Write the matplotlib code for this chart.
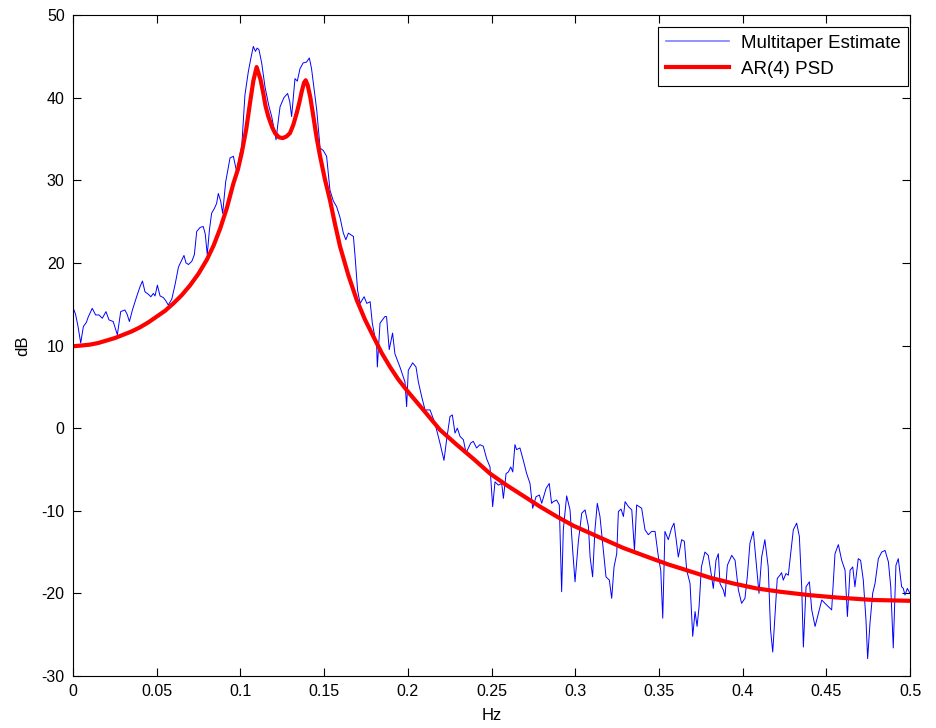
import matplotlib
matplotlib.use("Agg")
import matplotlib.pyplot as plt

# AR(4) PSD (Hz, dB)
ar_freq = [0.000, 0.005, 0.010, 0.015, 0.020, 0.025, 0.030, 0.035, 0.040, 0.045,
           0.050, 0.055, 0.060, 0.065, 0.070, 0.075, 0.080, 0.084, 0.088, 0.092,
           0.0958, 0.0985, 0.1008, 0.1035, 0.1057, 0.1077, 0.1097, 0.112, 0.1137, 0.115,
           0.1167, 0.119, 0.1207, 0.123, 0.1253, 0.1275, 0.1296, 0.1316, 0.1336, 0.1352,
           0.1366, 0.138, 0.139, 0.1402, 0.1418, 0.1436, 0.1455, 0.1476, 0.1505, 0.1535,
           0.1565, 0.1595, 0.1645, 0.1695, 0.1745, 0.1794, 0.1844, 0.1894, 0.1943, 0.1993,
           0.2093, 0.2192, 0.2292, 0.2391, 0.2491, 0.259, 0.269, 0.279, 0.289, 0.2988,
           0.3088, 0.3187, 0.3287, 0.3367, 0.3447, 0.3556, 0.3666, 0.3805, 0.3944, 0.4083,
           0.4223, 0.4392, 0.4562, 0.478, 0.500]
ar_db = [9.9, 10.0, 10.1, 10.3, 10.6, 10.9, 11.3, 11.7, 12.2, 12.8,
         13.5, 14.2, 15.1, 16.1, 17.3, 18.7, 20.4, 22.1, 24.2, 26.7,
         29.6, 31.3, 33.3, 36.2, 39.3, 42.0, 43.7, 42.2, 40.5, 39.0,
         37.7, 36.4, 35.7, 35.2, 35.1, 35.3, 35.7, 36.7, 38.1, 39.4,
         40.7, 41.8, 42.1, 41.5, 40.0, 37.7, 35.2, 32.9, 30.1, 27.6,
         24.7, 22.0, 18.5, 15.5, 13.1, 11.1, 9.1, 7.4, 5.9, 4.6,
         2.2, -0.2, -2.0, -3.7, -5.5, -6.9, -8.2, -9.5, -10.7, -11.8,
         -12.7, -13.6, -14.5, -15.1, -15.7, -16.5, -17.2, -18.1, -18.8, -19.4,
         -19.8, -20.2, -20.5, -20.8, -20.9]

# multitaper estimate (Hz, dB)
mt_freq = [0.0000, 0.0015, 0.0030, 0.0046, 0.0062, 0.0080, 0.0090, 0.0115, 0.0135, 0.0155,
           0.0175, 0.0197, 0.0215, 0.0240, 0.0265, 0.0285, 0.0310, 0.0323, 0.0337, 0.0355,
           0.0380, 0.0400, 0.0415, 0.0430, 0.0450, 0.0465, 0.0480, 0.0490, 0.0504, 0.0520,
           0.0540, 0.0555, 0.0569, 0.0590, 0.0610, 0.0630, 0.0663, 0.0675, 0.0690, 0.0710,
           0.0725, 0.0739, 0.0760, 0.0778, 0.0790, 0.0802, 0.0815, 0.0828, 0.0845, 0.0858,
           0.0868, 0.0882, 0.0894, 0.0912, 0.0938, 0.0958, 0.0978, 0.0995, 0.1008, 0.1027,
           0.1047, 0.1060, 0.1077, 0.1090, 0.1100, 0.1111, 0.1127, 0.1147, 0.1170, 0.1187,
           0.1213, 0.1225, 0.1237, 0.1260, 0.1282, 0.1295, 0.1306, 0.1326, 0.1340, 0.1356,
           0.1375, 0.1395, 0.1412, 0.1425, 0.1436, 0.1456, 0.1476, 0.1495, 0.1515, 0.1535,
           0.1555, 0.1575, 0.1595, 0.1615, 0.1630, 0.1645, 0.1660, 0.1675, 0.1685, 0.1700,
           0.1715, 0.1739, 0.1755, 0.1775, 0.1788, 0.1814, 0.1818, 0.1834, 0.1863, 0.1873,
           0.1889, 0.1909, 0.1923, 0.1953, 0.1983, 0.1993, 0.2003, 0.2029, 0.2049, 0.2063,
           0.2083, 0.2103, 0.2133, 0.2162, 0.2192, 0.2216, 0.2232, 0.2252, 0.2266, 0.2282,
           0.2296, 0.2312, 0.2332, 0.2348, 0.2376, 0.2391, 0.2411, 0.2431, 0.2451, 0.2471,
           0.2491, 0.2507, 0.2521, 0.2541, 0.2561, 0.2571, 0.2587, 0.2601, 0.2615, 0.2627,
           0.2640, 0.2650, 0.2670, 0.2690, 0.2710, 0.2730, 0.2746, 0.2766, 0.2786, 0.2800,
           0.2826, 0.2845, 0.2859, 0.2869, 0.2889, 0.2905, 0.2919, 0.2929, 0.2949, 0.2969,
           0.2985, 0.2999, 0.3019, 0.3039, 0.3059, 0.3079, 0.3089, 0.3104, 0.3118, 0.3132,
           0.3148, 0.3168, 0.3184, 0.3204, 0.3218, 0.3232, 0.3248, 0.3258, 0.3274, 0.3288,
           0.3298, 0.3318, 0.3338, 0.3354, 0.3367, 0.3397, 0.3417, 0.3437, 0.3457, 0.3477,
           0.3497, 0.3511, 0.3523, 0.3536, 0.3556, 0.3576, 0.3590, 0.3602, 0.3616, 0.3636,
           0.3652, 0.3666, 0.3686, 0.3702, 0.3716, 0.3728, 0.3740, 0.3754, 0.3775, 0.3795,
           0.3809, 0.3825, 0.3841, 0.3855, 0.3865, 0.3885, 0.3895, 0.3909, 0.3935, 0.3955,
           0.3975, 0.3994, 0.4014, 0.4028, 0.4044, 0.4064, 0.4080, 0.4098, 0.4114, 0.4133,
           0.4153, 0.4167, 0.4180, 0.4194, 0.4207, 0.4223, 0.4233, 0.4243, 0.4259, 0.4273,
           0.4287, 0.4303, 0.4323, 0.4339, 0.4353, 0.4363, 0.4379, 0.4399, 0.4413, 0.4433,
           0.4453, 0.4473, 0.4492, 0.4512, 0.4532, 0.4552, 0.4572, 0.4592, 0.4612, 0.4626,
           0.4642, 0.4658, 0.4671, 0.4691, 0.4705, 0.4721, 0.4737, 0.4747, 0.4761, 0.4777,
           0.4791, 0.4811, 0.4831, 0.4851, 0.4871, 0.4885, 0.4900, 0.4916, 0.4930, 0.4950,
           0.4960, 0.4970, 0.4984, 0.5000]
mt_db = [14.6, 13.8, 12.3, 10.3, 12.3, 12.8, 13.4, 14.5, 13.7, 13.7,
         13.3, 14.1, 13.1, 12.9, 11.3, 14.1, 14.3, 13.8, 12.9, 14.3,
         15.9, 17.1, 17.8, 16.5, 16.2, 15.9, 16.3, 16.0, 17.3, 16.0,
         15.8, 15.4, 14.9, 15.6, 17.4, 19.5, 20.9, 20.0, 19.8, 20.2,
         21.0, 23.8, 24.3, 24.4, 23.5, 21.0, 24.0, 26.0, 26.6, 27.2,
         28.4, 27.5, 26.0, 29.8, 32.7, 32.9, 31.0, 33.0, 34.1, 40.3,
         43.1, 44.5, 46.2, 45.6, 46.0, 45.8, 44.2, 41.3, 39.0, 37.7,
         34.9, 37.0, 38.9, 40.0, 40.5, 39.5, 37.7, 42.3, 42.0, 43.5,
         44.2, 44.3, 44.8, 43.5, 41.7, 38.5, 33.9, 33.6, 32.9, 28.8,
         27.5, 26.8, 25.5, 23.6, 22.8, 23.6, 23.4, 23.2, 20.8, 16.7,
         15.1, 15.9, 15.1, 15.3, 12.7, 9.9, 7.4, 12.7, 13.5, 13.5,
         9.5, 11.5, 9.0, 7.4, 5.6, 2.6, 7.0, 7.9, 7.4, 5.6,
         3.8, 2.2, 2.2, 0.6, -1.8, -3.9, -1.4, 1.4, 1.6, -0.6,
         0.0, -1.0, -1.4, -3.0, -1.8, -1.6, -2.4, -2.0, -2.2, -3.7,
         -4.7, -9.5, -6.5, -6.9, -6.7, -8.5, -5.5, -5.3, -4.7, -5.3,
         -2.0, -2.6, -2.4, -3.9, -5.5, -6.7, -9.7, -8.3, -8.1, -9.1,
         -7.3, -6.7, -9.1, -8.9, -8.7, -9.3, -19.8, -12.3, -8.2, -9.9,
         -14.8, -18.6, -13.7, -10.3, -9.9, -11.9, -15.6, -18.0, -12.3, -9.1,
         -10.7, -14.8, -18.0, -18.4, -20.6, -16.8, -15.2, -10.1, -9.8, -10.7,
         -8.9, -9.5, -9.9, -14.8, -9.3, -9.7, -12.3, -12.9, -12.5, -12.5,
         -15.6, -17.2, -23.0, -12.5, -13.5, -12.1, -11.5, -13.3, -15.6, -13.5,
         -13.7, -17.2, -18.8, -25.2, -22.2, -24.0, -21.6, -16.8, -15.0, -15.4,
         -17.2, -19.4, -16.0, -15.2, -18.8, -19.6, -20.4, -16.6, -15.4, -16.0,
         -19.6, -21.2, -20.6, -18.0, -13.9, -12.5, -16.0, -20.0, -15.6, -13.5,
         -16.8, -24.4, -27.1, -22.4, -18.2, -17.8, -17.5, -18.4, -17.6, -17.8,
         -15.2, -12.3, -11.5, -13.1, -19.2, -26.5, -19.2, -18.6, -22.0, -24.0,
         -22.4, -20.8, -21.2, -21.6, -22.0, -15.2, -14.1, -16.0, -17.2, -22.8,
         -17.2, -16.8, -19.2, -15.8, -16.0, -18.4, -23.2, -27.9, -23.6, -20.0,
         -18.8, -15.8, -15.0, -14.8, -16.2, -19.2, -26.6, -16.6, -15.8, -19.2,
         -19.4, -20.2, -19.4, -20.0]

x_ticks = [0, 0.05, 0.1, 0.15, 0.2, 0.25, 0.3, 0.35, 0.4, 0.45, 0.5]
x_labels = ["0", "0.05", "0.1", "0.15", "0.2", "0.25", "0.3", "0.35", "0.4", "0.45", "0.5"]
y_ticks = [-30, -20, -10, 0, 10, 20, 30, 40, 50]

plt.rcParams['font.family'] = ['Liberation Sans', 'DejaVu Sans']
plt.rcParams['axes.unicode_minus'] = False

fig = plt.figure(figsize=(9.36, 7.28), dpi=100)
ax = fig.add_axes([73 / 936, 1 - 676 / 728, 837 / 936, 661 / 728])

ax.plot(mt_freq, mt_db, color='#0000ff', linewidth=0.7, label='Multitaper Estimate')
ax.plot(ar_freq, ar_db, color='#ff0000', linewidth=3.0, label='AR(4) PSD',
        solid_joinstyle='round')

ax.set_xlim(0, 0.5)
ax.set_ylim(-30, 50)
ax.set_xticks(x_ticks)
ax.set_xticklabels(x_labels)
ax.set_yticks(y_ticks)
ax.tick_params(direction='in', length=6, width=0.8, top=True, right=True,
               labelsize=11.5, pad=6)
for s in ax.spines.values():
    s.set_linewidth(0.8)

ax.set_xlabel('Hz', fontsize=12, labelpad=6)
ax.set_ylabel('dB', fontsize=12, labelpad=8)

leg = ax.legend(loc='upper right', bbox_to_anchor=(0.9976, 0.982), borderaxespad=0,
                fontsize=13.5, fancybox=False, edgecolor='k', framealpha=1,
                handlelength=3.4, handletextpad=0.6, borderpad=0.4, labelspacing=0.5)
leg.get_frame().set_linewidth(0.8)
leg.get_lines()[0].set_color('#7f7fff')
leg.get_lines()[0].set_linewidth(1.2)

fig.savefig('out.png', dpi=100)
